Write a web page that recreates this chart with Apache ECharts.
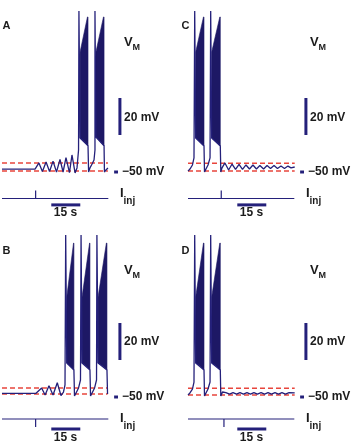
<!DOCTYPE html>
<html>
<head>
<meta charset="utf-8">
<script src="https://cdn.jsdelivr.net/npm/echarts@6/dist/echarts.min.js"></script>
<style>
  html, body { margin: 0; padding: 0; background: #fff; }
  #chart { width: 356px; height: 443px; }
</style>
</head>
<body>
<div id="chart"></div>
<script>
// membrane potential traces: [time (s), V (mV)]
const traceA = [[0,-48.4],[17.1,-48.4],[19.1,-45.1],[20.9,-49.7],[22.8,-44.6],[24.6,-49.7],[26.4,-44.1],[28.2,-50],[30.0,-43.2],[31.6,-50],[33.1,-42.2],[34.9,-50.3],[36.2,-40.8],[37.8,-50.5],[38.8,-47.8],[39.6,-38.1],[39.8,37],[40.4,-31.6],[44.5,-35.9],[44.8,-50],[45.5,-47.8],[46.6,-45.7],[47.6,-43.5],[48.1,-38.1],[48.1,37],[48.6,-31.1],[52.8,-35.9],[53.0,-50],[53.8,-48.9],[54.8,-47.8]];
const traceB = [[0,-48],[17.6,-48],[20.5,-45.1],[22.3,-48.9],[24.3,-43.9],[26.4,-48.9],[28.6,-42.3],[30.5,-49.2],[31.8,-47.3],[32.6,-43.5],[32.95,37.6],[33.5,-31.6],[37.2,-35.4],[37.5,-49.5],[38.3,-47.8],[39.6,-45.1],[40.6,-40.8],[40.9,37.6],[41.4,-31.6],[45.5,-35.4],[45.8,-49.5],[46.6,-47.8],[47.9,-45.1],[48.9,-40.8],[49.1,37.6],[49.7,-31.6],[54.3,-35.4],[54.6,-48.4]];
const traceC = [[0,-49.5],[1.0,-48.4],[2.3,-46.2],[3.1,-42.4],[3.47,37],[3.98,-31.6],[8.28,-35.9],[8.54,-50],[9.3,-48.4],[10.35,-46.2],[11.4,-42.4],[11.74,37],[12.26,-31.6],[16.71,-35.9],[16.97,-50],[17.6,-47.8],[19.1,-45.1],[21.0,-48.9],[22.8,-45.7],[24.6,-48.6],[26.4,-45.9],[28.2,-48.6],[30.0,-46.2],[31.8,-48.4],[33.6,-46.2],[35.4,-48.4],[37.2,-46.5],[39.1,-48.4],[40.9,-46.5],[42.7,-48.1],[44.5,-46.5],[46.3,-48.1],[48.1,-46.8],[49.9,-48.1],[51.7,-46.8],[53.3,-47.8],[55.2,-47.3]];
const traceD = [[0,-48.9],[1.0,-47.8],[2.3,-45.7],[3.1,-41.9],[3.47,37.6],[3.98,-31.6],[8.28,-35.4],[8.54,-49.5],[9.3,-47.8],[10.35,-45.7],[11.4,-41.9],[11.74,37.6],[12.26,-31.6],[16.71,-35.4],[16.97,-49.5],[17.85,-47.3],[19.6,-47.6],[21.5,-48.4],[23.3,-47.6],[25.1,-48.4],[26.9,-47.6],[28.7,-48.4],[30.5,-47.6],[32.3,-48.4],[34.1,-47.6],[35.9,-48.4],[37.8,-47.6],[39.6,-48.4],[41.4,-47.6],[43.2,-48.4],[45.0,-47.6],[46.8,-48.4],[48.6,-47.6],[50.4,-48.4],[52.3,-47.6],[55.2,-47.8]];

// burst envelopes (dense spiking drawn as filled outlines)
const burstsA = [
  [[40.4,-31.6],[40.4,14.9],[44.2,33.8],[44.5,33.8],[44.5,-35.9],[42.5,-33.6]],
  [[48.6,-31.1],[48.6,14.9],[52.5,33.8],[52.8,33.8],[52.8,-35.9],[50.7,-33.4]]
];
const burstsB = [
  [[33.5,-31.6],[33.5,4],[37.0,33.2],[37.2,33.2],[37.2,-35.4],[35.2,-33.2]],
  [[41.4,-31.6],[41.4,4],[45.3,33.2],[45.5,33.2],[45.5,-35.4],[43.5,-33.2]],
  [[49.7,-31.6],[49.7,4],[54.0,33.2],[54.3,33.2],[54.3,-35.4],[52.0,-33.2]]
];
const burstsC = [
  [[3.98,-31.6],[3.98,14.9],[8.0,33.8],[8.28,33.8],[8.28,-35.9],[6.2,-33.6]],
  [[12.26,-31.6],[12.26,14.9],[16.45,33.8],[16.71,33.8],[16.71,-35.9],[14.5,-33.6]]
];
const burstsD = [
  [[3.98,-31.6],[3.98,4],[8.0,33.2],[8.28,33.2],[8.28,-35.4],[6.2,-33.2]],
  [[12.26,-31.6],[12.26,4],[16.45,33.2],[16.71,33.2],[16.71,-35.4],[14.5,-33.2]]
];

// red dashed reference levels (mV)
const redA = [-45.1, -49.5];
const redB = [-45.1, -48.4];
const redC = [-45.3, -49.5];
const redD = [-45.3, -48.9];

// injected current traces (arbitrary units)
const stimA = [[0,0],[17.4,0],[17.4,1],[17.4,0],[55,0]];
const stimB = [[0,0],[17.4,0],[17.4,-1],[17.4,0],[55,0]];
const stimC = [[0,0],[17.2,0],[17.2,1],[17.2,0],[55,0]];
const stimD = [[0,0],[18.6,0],[18.6,-1],[18.6,0],[55,0]];

// scale bars
const mvBar = [-30, -10];
const restMv = -50;
const secBar = [25.5, 40.5];

const NAVY = '#24207a';
const FILL = '#1d1865';
const RED = '#e8453c';
const TXT = '#1b1b1b';
const FONT = 'Liberation Sans, Arial, sans-serif';

const PX_PER_S = 1.933;
const PX_PER_MV = 1.85;

const panels = [
  { name: 'A', trace: traceA, bursts: burstsA, red: redA, stim: stimA, col: 0, row: 0 },
  { name: 'B', trace: traceB, bursts: burstsB, red: redB, stim: stimB, col: 0, row: 1 },
  { name: 'C', trace: traceC, bursts: burstsC, red: redC, stim: stimC, col: 1, row: 0 },
  { name: 'D', trace: traceD, bursts: burstsD, red: redD, stim: stimD, col: 1, row: 1 }
];
// layout per column / row (pixels)
const colX = [2, 188];
const rowLayout = [
  { y50: 172, iy: 198.5, secY: -0.8, letter: 25.5, vm: 42, mv20: 118, ilab: 193, inj: 201.5, sec: 213 },
  { y50: 397, iy: 419, secY: -1.25, letter: 250.5, vm: 270, mv20: 342, ilab: 418, inj: 426.5, sec: 438 }
];

const grid = [], xAxis = [], yAxis = [], series = [], graphic = [];

function line(data, gi, color, width, dash) {
  series.push({
    type: 'line', data: data, xAxisIndex: gi, yAxisIndex: gi,
    showSymbol: false, silent: true, animation: false,
    lineStyle: { color: color, width: width, type: dash || 'solid', cap: 'butt' }
  });
}
function text(x, y, str, size, align) {
  graphic.push({
    type: 'text', x: x, y: y, silent: true,
    style: { text: str, fontSize: size, fontWeight: 'bold', fontFamily: FONT, fill: TXT,
             align: align || 'left', verticalAlign: 'middle' }
  });
}

panels.forEach((p, i) => {
  const L = rowLayout[p.row];
  const x0 = colX[p.col];
  const dx = p.col * 186;
  const vg = 2 * i, ig = 2 * i + 1;

  // voltage grid: 0..70 s, -60..40 mV
  grid.push({ left: x0, top: L.y50 - 90 * PX_PER_MV, width: 70 * PX_PER_S, height: 100 * PX_PER_MV });
  // current grid: -2..2
  grid.push({ left: x0, top: L.iy - 16, width: 70 * PX_PER_S, height: 32 });
  [vg, ig].forEach(g => xAxis.push({ gridIndex: g, type: 'value', min: 0, max: 70, show: false }));
  yAxis.push({ gridIndex: vg, type: 'value', min: -60, max: 40, show: false });
  yAxis.push({ gridIndex: ig, type: 'value', min: -2, max: 2, show: false });

  const tEnd = p.trace[p.trace.length - 1][0];
  p.red.forEach(v => line([[0, v], [tEnd, v]], vg, RED, 1.5, [5, 3]));

  series.push({
    type: 'custom', xAxisIndex: vg, yAxisIndex: vg, silent: true, animation: false, clip: false,
    data: p.bursts.map((b, k) => [k]),
    renderItem: (params, api) => {
      const poly = p.bursts[api.value(0)];
      return {
        type: 'polygon',
        shape: { points: poly.map(pt => api.coord(pt)) },
        style: { fill: FILL, stroke: FILL, lineWidth: 0.6 }
      };
    }
  });
  line(p.trace, vg, NAVY, 1.3);

  // -50 mV mark and 20 mV bar
  line([[58, restMv], [60, restMv]], vg, NAVY, 3);
  line([[61, mvBar[0]], [61, mvBar[1]]], vg, NAVY, 3);

  // injected current and 15 s bar
  line(p.stim, ig, NAVY, 1.2);
  line([[secBar[0], L.secY], [secBar[1], L.secY]], ig, NAVY, 3);

  // labels
  text(x0 + 4.5 + (p.col ? -7 : 0), L.letter, p.name, 11, 'center');
  text(124 + dx, L.vm, 'V', 13);
  text(132.5 + dx, L.vm + 6, 'M', 9);
  text(124 + dx, L.mv20, '20 mV', 12);
  text(122 + dx, L.y50, '\u221250 mV', 12);
  text(120 + dx, L.ilab, 'I', 13);
  text(123.5 + dx, L.inj, 'inj', 10);
  text(65.5 + dx, L.sec, '15 s', 12, 'center');
});

const chart = echarts.init(document.getElementById('chart'), null, { renderer: 'canvas' });
chart.setOption({
  backgroundColor: '#ffffff',
  animation: false,
  grid: grid,
  xAxis: xAxis,
  yAxis: yAxis,
  series: series,
  graphic: graphic
});
</script>
</body>
</html>
